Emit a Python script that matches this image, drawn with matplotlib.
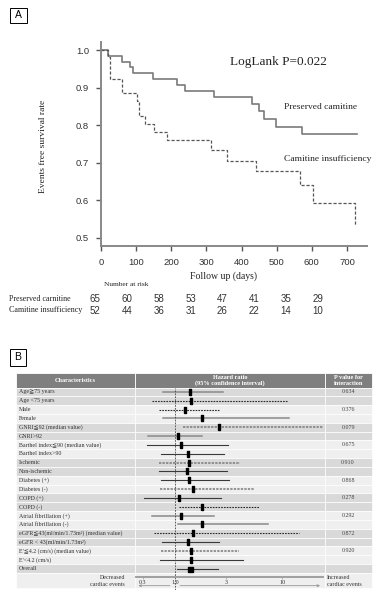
import numpy as np
import matplotlib
matplotlib.use("Agg")
import matplotlib.pyplot as plt
from matplotlib.patches import Rectangle

W, H = 388, 593
SERIF = ["Liberation Serif", "DejaVu Serif", "DejaVu Sans", "Noto Sans CJK JP"]
SANS = ["Liberation Sans", "DejaVu Sans"]

# ---- panel A data (Kaplan-Meier) ----
pres_days = [0, 21, 59, 83, 90, 147, 215, 240, 323, 429, 450, 464, 499, 572, 728]
pres_surv = [1.0, 0.985, 0.969, 0.954, 0.938, 0.923, 0.907, 0.891, 0.874,
             0.856, 0.838, 0.817, 0.796, 0.776, 0.776]
insuf_days = [0, 20, 26, 59, 103, 108, 125, 151, 187, 313, 358, 441, 567, 602, 724]
insuf_surv = [1.0, 0.981, 0.923, 0.885, 0.865, 0.824, 0.803, 0.781, 0.760,
              0.733, 0.705, 0.678, 0.640, 0.594, 0.535]
risk_pres = [65, 60, 58, 53, 47, 41, 35, 29]
risk_insuf = [52, 44, 36, 31, 26, 22, 14, 10]

# ---- panel B data (subgroup forest plot) ----
labels = ["Age\u226775 years", "Age <75 years", "Male", "Female",
          "GNRI\u226692 (median value)", "GNRI>92",
          "Barthel index\u226690 (median value)", "Barthel index>90",
          "Ischemic", "Non-ischemic", "Diabetes (+)", "Diabetes (-)",
          "COPD (+)", "COPD (-)", "Atrial fibrillation (+)", "Atrial fibrillation (-)",
          "eGFR\u226643(ml/min/1.73m\u00b2) (median value)", "eGFR < 43(ml/min/1.73m\u00b2)",
          "E'\u22664.2 (cm/s) (median value)", "E'<4.2 (cm/s)", "Overall"]
hr = [1.37, 1.40, 1.25, 1.78, 2.59, 1.06, 1.15, 1.33, 1.36, 1.30, 1.36, 1.46,
      1.10, 1.78, 1.14, 1.78, 1.48, 1.33, 1.40, 1.40, 1.38]
ci_lo = [0.77, 0.61, 0.71, 0.78, 1.18, 0.56, 0.55, 0.74, 0.71, 0.71, 0.74, 0.72,
         0.51, 1.10, 0.61, 1.07, 0.63, 0.76, 0.74, 0.72, 1.04]
ci_hi = [2.79, 11.1, 2.59, 11.6, 24.0, 1.78, 3.15, 2.89, 4.05, 3.08, 3.20, 5.47,
         2.67, 6.06, 2.33, 7.45, 14.4, 2.59, 3.96, 4.29, 2.54]
p_inter = ["0.634", "0.376", "0.079", "0.675", "0.910", "0.868", "0.278",
           "0.292", "0.872", "0.920"]
hr_ticks = [0.5, 1.0, 3, 10]
hr_ticklabels = ["0.3", "1.0", "3", "10"]

# line style of each CI: g = solid grey, d = solid dark, gd = dotted grey, dd = dotted dark
ci_style = ["g", "dd", "dd", "g", "gd", "g", "d", "d", "gd", "d", "d", "gd",
            "d", "dd", "g", "g", "dd", "d", "gd", "d", "d"]
styles = {"g": ("#8a8a8a", "-", 1.1), "d": ("#3a3a3a", "-", 0.8),
          "gd": ("#7a7a7a", (0, (1.5, 0.8)), 1.1), "dd": ("#2a2a2a", (0, (1.5, 1)), 0.8)}


def rect(x0, y0, x1, y1):
    return [x0 / W, 1 - y1 / H, (x1 - x0) / W, (y1 - y0) / H]


fig = plt.figure(figsize=(W / 100, H / 100), dpi=100)

# background axes in pixel coordinates
bg = fig.add_axes([0, 0, 1, 1])
bg.set_xlim(0, W)
bg.set_ylim(H, 0)
bg.axis("off")

# ================= panel A =================
bg.add_patch(Rectangle((10, 8), 17, 15, fill=False, ec="black", lw=0.7))
bg.text(18.5, 15.5, "A", ha="center", va="center", fontsize=7.5, family=SANS)

ax = fig.add_axes(rect(101, 42, 367, 246))
ax.step(pres_days, pres_surv, where="post", color="#7a7a7a", lw=1.2)
ax.step(insuf_days, insuf_surv, where="post", color="#555555", lw=0.9,
        linestyle=(0, (2.5, 1.5)))
ax.set_xlim(0, 757)
ax.set_ylim(0.4787, 1.0213)
for s in ["top", "right"]:
    ax.spines[s].set_visible(False)
for s in ["left", "bottom"]:
    ax.spines[s].set_color("#888888")
    ax.spines[s].set_linewidth(1.4)
ax.set_xticks(range(0, 701, 100))
ax.set_yticks([0.5, 0.6, 0.7, 0.8, 0.9, 1.0])
ax.set_yticklabels(["0.5", "0.6", "0.7", "0.8", "0.9", "1.0"])
ax.tick_params(axis="both", length=3.5, width=1, color="#555555",
               labelcolor="#333333", labelsize=6.8)
ax.tick_params(axis="y", pad=5)
ax.tick_params(axis="x", pad=5)
for t in ax.get_xticklabels() + ax.get_yticklabels():
    t.set_family(SANS)
ax.patch.set_alpha(0)

ax.text(0.485, 0.9, "LogLank P=0.022", transform=ax.transAxes, fontsize=9.5,
        family=SERIF, color="#222222", va="center")
bg.text(284, 107, "Preserved camitine", fontsize=6.8, family=SERIF,
        color="#222222", va="center")
bg.text(284, 159, "Camitine insufficiency", fontsize=6.8, family=SERIF,
        color="#222222", va="center")
bg.text(43, 146, "Events free survival rate", rotation=90, fontsize=6.8,
        family=SERIF, color="#222222", ha="center", va="center")
bg.text(224, 276, "Follow up (days)", fontsize=7, family=SERIF,
        color="#222222", ha="center", va="center")

# number at risk table
bg.text(104, 284, "Number at risk", fontsize=5.3, family=SERIF,
        color="#222222", va="center")
bg.text(9, 299, "Preserved carnitine", fontsize=5.8, family=SERIF,
        color="#222222", va="center")
bg.text(9, 310.5, "Camitine insufficiency", fontsize=5.8, family=SERIF,
        color="#222222", va="center")
col_x = np.linspace(95, 318, len(risk_pres))
for cx, a, b in zip(col_x, risk_pres, risk_insuf):
    bg.text(cx, 299, str(a), fontsize=7, family=SANS, color="#333333",
            ha="center", va="center")
    bg.text(cx, 310.5, str(b), fontsize=7, family=SANS, color="#333333",
            ha="center", va="center")

# ================= panel B =================
bg.add_patch(Rectangle((10, 349), 16, 17, fill=False, ec="black", lw=0.7))
bg.text(18, 357.5, "B", ha="center", va="center", fontsize=7.5, family=SANS)

tx0, tx1 = 16, 372
c1, c2 = 135, 325
head_top, head_bot = 373, 387.5
row_h = 8.83
n = len(labels)
foot_top = head_bot + n * row_h
foot_bot = 590

dark, light, hcol = "#d9d9d9", "#efefef", "#7f7f7f"
for x0, x1 in [(tx0, c1), (c1, c2), (c2, tx1)]:
    bg.add_patch(Rectangle((x0, head_top), x1 - x0, head_bot - head_top,
                           fc=hcol, ec="white", lw=0.6))
for i in range(n):
    pair = i // 2 if i < 20 else 10
    fc = dark if pair % 2 == 0 else light
    y0 = head_bot + i * row_h
    for x0, x1 in [(tx0, c1), (c1, c2), (c2, tx1)]:
        bg.add_patch(Rectangle((x0, y0), x1 - x0, row_h, fc=fc, ec="white", lw=0.5))
    bg.text(19, y0 + row_h / 2, labels[i], fontsize=4.3, family=SERIF,
            color="#333333", va="center")
    if i < 20 and i % 2 == 0:
        bg.text(348, y0 + row_h / 2, p_inter[i // 2], fontsize=4.3, family=SERIF,
                color="#444444", va="center", ha="center")
for x0, x1 in [(tx0, c1), (c1, c2), (c2, tx1)]:
    bg.add_patch(Rectangle((x0, foot_top), x1 - x0, foot_bot - 2 - foot_top,
                           fc=light, ec="white", lw=0.5))

hd = dict(fontsize=4.5, family=SERIF, color="white", weight="bold",
          ha="center", va="center")
bg.text((tx0 + c1) / 2, 380.5, "Characteristics", **hd)
bg.text((c1 + c2) / 2, 377.5, "Hazard ratio", **hd)
bg.text((c1 + c2) / 2, 383.5, "(95% confidence interval)", **hd)
bg.text((c2 + tx1) / 2, 377.5, "P value for", **hd)
bg.text((c2 + tx1) / 2, 383.5, "interaction", **hd)

bg.text(125, 577.5, "Decreased", fontsize=4.3, family=SERIF, color="#333333",
        ha="right", va="center")
bg.text(125, 584.5, "cardiac events", fontsize=4.3, family=SERIF,
        color="#333333", ha="right", va="center")
bg.text(327, 577.5, "Increased", fontsize=4.3, family=SERIF, color="#333333",
        va="center")
bg.text(327, 584.5, "cardiac events", fontsize=4.3, family=SERIF,
        color="#333333", va="center")

# forest plot axes over the hazard ratio column
fa = fig.add_axes(rect(c1, head_bot, c2, foot_bot))
fa.set_xscale("log")
fa.set_xlim(0.423, 25.2)
ybot = (foot_bot - head_bot) / row_h - 0.5
fa.set_ylim(ybot, -0.5)
fa.patch.set_alpha(0)
rows = np.arange(n)
for i in rows:
    col, ls, lw = styles[ci_style[i]]
    fa.plot([ci_lo[i], ci_hi[i]], [i, i], color=col, linestyle=ls, lw=lw)
box = [(-0.5, -1), (0.5, -1), (0.5, 1), (-0.5, 1), (-0.5, -1)]
fa.plot(hr[:-1], rows[:-1], linestyle="none", marker=box, markersize=4.2,
        color="black")
fa.plot(hr[-1:], rows[-1:], linestyle="none", marker="s", markersize=3.6,
        color="black")
fa.axvline(1.0, color="#444444", lw=0.6, linestyle=(0, (2, 1.5)))

for s in ["top", "right", "left"]:
    fa.spines[s].set_visible(False)
axis_y = (576.7 - head_bot) / row_h - 0.5
fa.spines["bottom"].set_position(("data", axis_y))
fa.spines["bottom"].set_bounds(0.43, 24)
fa.spines["bottom"].set_color("#999999")
fa.spines["bottom"].set_linewidth(1.3)
fa.set_yticks([])
fa.set_xticks(hr_ticks)
fa.set_xticklabels(hr_ticklabels)
fa.xaxis.set_minor_locator(matplotlib.ticker.NullLocator())
fa.tick_params(axis="x", length=1.5, width=0.5, color="#999999", pad=1,
               labelsize=4.3, labelcolor="#333333")
for t in fa.get_xticklabels():
    t.set_family(SERIF)

arrow_y = (585.7 - head_bot) / row_h - 0.5
ap = dict(arrowstyle="->", color="#888888", lw=0.5, mutation_scale=4)
fa.annotate("", xy=(0.43, arrow_y), xytext=(0.95, arrow_y), arrowprops=ap)
fa.annotate("", xy=(24, arrow_y), xytext=(1.05, arrow_y), arrowprops=ap)

fig.savefig("out.png", dpi=100)
